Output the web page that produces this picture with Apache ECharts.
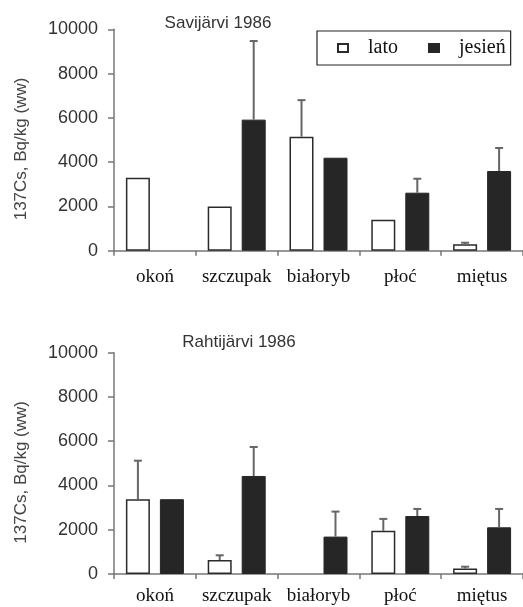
<!DOCTYPE html>
<html>
<head>
<meta charset="utf-8">
<script src="https://cdn.jsdelivr.net/npm/echarts@6/dist/echarts.min.js"></script>
<style>
html,body{margin:0;padding:0;background:#fff;}
#chart{width:523px;height:607px;}
</style>
</head>
<body>
<div id="chart"></div>
<script>
var categories = ['okoń', 'szczupak', 'białoryb', 'płoć', 'miętus'];
var seriesNames = ['lato', 'jesień'];
var yTicks = [0, 2000, 4000, 6000, 8000, 10000];

var savLato = [3300, 2000, 5150, 1400, 290];
var savJesien = [null, 5920, 4200, 2620, 3600];
var savLatoErr = [null, null, 6800, null, 360];
var savJesienErr = [null, 9470, null, 3250, 4640];

var rahLato = [3380, 630, null, 1950, 250];
var rahJesien = [3380, 4430, 1690, 2620, 2110];
var rahLatoErr = [5120, 845, null, 2490, 330];
var rahJesienErr = [null, 5740, 2820, 2940, 2940];

var BAR_W = 24, BAR_GAP = 10;
var SANS = "'Liberation Sans', Arial, sans-serif";
var SERIF = "'Liberation Serif', 'Times New Roman', serif";

function errData(vals, errs) {
  var out = [];
  for (var i = 0; i < vals.length; i++) {
    if (errs[i] != null && vals[i] != null) out.push([i, vals[i], errs[i]]);
  }
  return out;
}

function errSeries(name, vals, errs, gridIdx, side) {
  return {
    type: 'custom',
    name: name + '_err',
    xAxisIndex: gridIdx, yAxisIndex: gridIdx,
    silent: true,
    z: 5,
    data: errData(vals, errs),
    renderItem: function (params, api) {
      var p0 = api.coord([api.value(0), api.value(1)]);
      var p1 = api.coord([api.value(0), api.value(2)]);
      var dx = side * (BAR_W + BAR_GAP) / 2;
      var x = p0[0] + dx;
      var st = { stroke: '#666', lineWidth: 2 };
      return {
        type: 'group',
        children: [
          { type: 'line', shape: { x1: x, y1: p0[1], x2: x, y2: p1[1] }, style: st },
          { type: 'line', shape: { x1: x - 4, y1: p1[1], x2: x + 4, y2: p1[1] }, style: st }
        ]
      };
    }
  };
}

function barSeries(name, vals, gridIdx, isLato) {
  return {
    type: 'bar',
    name: name,
    xAxisIndex: gridIdx, yAxisIndex: gridIdx,
    data: vals,
    barWidth: BAR_W,
    barGap: (BAR_GAP / BAR_W * 100) + '%',
    itemStyle: isLato ? { color: '#fff', borderColor: '#2a2a2a', borderWidth: 1.5 }
                      : { color: '#262626', borderColor: '#262626', borderWidth: 1 },
    z: 3
  };
}

function xAxis(gridIdx, margin) {
  return {
    type: 'category', gridIndex: gridIdx, data: categories,
    boundaryGap: true,
    axisLine: { lineStyle: { color: '#777', width: 1.5 } },
    axisTick: { show: true, length: 5, alignWithLabel: false, lineStyle: { color: '#777', width: 1.5 } },
    axisLabel: { fontFamily: SERIF, fontSize: 19, color: '#111', margin: margin, interval: 0 }
  };
}

function yAxis(gridIdx) {
  return {
    type: 'value', gridIndex: gridIdx, min: yTicks[0], max: yTicks[yTicks.length - 1], interval: 2000,
    name: '137Cs, Bq/kg (ww)', nameLocation: 'middle', nameGap: 84,
    nameTextStyle: { fontFamily: SANS, fontSize: 17, color: '#444', padding: [0, 18, 0, 0] },
    axisLine: { show: true, lineStyle: { color: '#777', width: 1.5 } },
    axisTick: { show: true, inside: false, length: 6, lineStyle: { color: '#777', width: 1.5 } },
    splitLine: { show: false },
    axisLabel: { fontFamily: SANS, fontSize: 18, color: '#333', margin: 16,
      formatter: function (v) { return String(v); } }
  };
}

var chart = echarts.init(document.getElementById('chart'));
chart.setOption({
  animation: false,
  backgroundColor: '#fff',
  title: [
    { text: 'Savijärvi 1986', left: 213, top: 10, textAlign: 'center',
      textStyle: { fontFamily: SANS, fontSize: 17, fontWeight: 'normal', color: '#333' } },
    { text: 'Rahtijärvi 1986', left: 234, top: 329, textAlign: 'center',
      textStyle: { fontFamily: SANS, fontSize: 17, fontWeight: 'normal', color: '#333' } }
  ],
  legend: {
    data: seriesNames,
    left: 317, top: 31,
    orient: 'horizontal',
    icon: 'rect',
    itemWidth: 10, itemHeight: 8,
    itemGap: 30,
    padding: [7, 5, 7, 20],
    borderColor: '#222', borderWidth: 1.2,
    textStyle: { fontFamily: SERIF, fontSize: 20, color: '#111', padding: [0, 0, 0, 15] }
  },
  grid: [
    { left: 114, right: -5, top: 29.3, height: 221.4 },
    { left: 114, right: -5, top: 352.7, height: 221.3 }
  ],
  xAxis: [xAxis(0, 17), xAxis(1, 13)],
  yAxis: [yAxis(0), yAxis(1)],
  series: [
    barSeries('lato', savLato, 0, true),
    barSeries('jesień', savJesien, 0, false),
    barSeries('lato', rahLato, 1, true),
    barSeries('jesień', rahJesien, 1, false),
    errSeries('lato', savLato, savLatoErr, 0, -1),
    errSeries('jesień', savJesien, savJesienErr, 0, 1),
    errSeries('lato', rahLato, rahLatoErr, 1, -1),
    errSeries('jesień', rahJesien, rahJesienErr, 1, 1)
  ]
});
</script>
</body>
</html>
